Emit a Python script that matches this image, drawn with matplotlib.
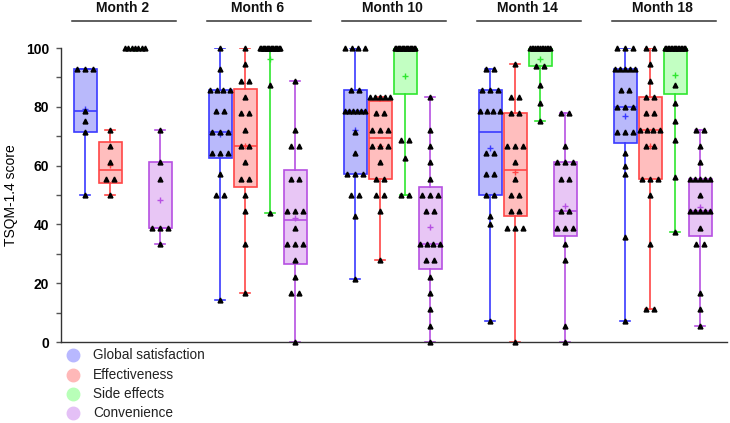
import numpy as np
import matplotlib
matplotlib.use('Agg')
import matplotlib.pyplot as plt
from matplotlib.lines import Line2D
import matplotlib.transforms as mtransforms

plt.rcParams['font.family'] = ['Liberation Sans', 'DejaVu Sans']

months = ['Month 2', 'Month 6', 'Month 10', 'Month 14', 'Month 18']
domains = ['Global satisfaction', 'Effectiveness', 'Side effects', 'Convenience']

global_sat = [
    [92.9, 92.9, 92.9, 78.6, 75.0, 71.4, 50.0],
    [100, 92.9, 85.7, 85.7, 85.7, 85.7, 78.6, 78.6, 71.4, 71.4, 71.4, 64.3, 64.3, 64.3, 57.1, 50.0, 50.0, 14.3],
    [100, 100, 100, 100, 85.7, 85.7, 78.6, 78.6, 78.6, 78.6, 78.6, 78.6, 71.4, 64.3, 57.1, 57.1, 57.1, 50.0, 50.0, 42.9, 21.4],
    [92.9, 92.9, 85.7, 85.7, 85.7, 78.6, 78.6, 78.6, 78.6, 64.3, 64.3, 57.1, 57.1, 50.0, 50.0, 42.9, 40.0, 7.1],
    [100, 100, 100, 92.9, 92.9, 92.9, 92.9, 92.9, 85.7, 85.7, 80.0, 80.0, 80.0, 71.4, 71.4, 71.4, 64.3, 60.0, 57.1, 35.7, 7.1],
]
effectiveness = [
    [72.2, 66.7, 61.1, 55.6, 55.6, 50.0],
    [100, 94.4, 88.9, 88.9, 83.3, 77.8, 77.8, 72.2, 66.7, 66.7, 61.1, 55.6, 55.6, 50.0, 44.4, 33.3, 16.7],
    [83.3, 83.3, 83.3, 83.3, 83.3, 77.8, 77.8, 72.2, 72.2, 72.2, 66.7, 66.7, 66.7, 61.1, 55.6, 55.6, 50.0, 50.0, 44.4, 27.8],
    [94.4, 83.3, 83.3, 77.8, 77.8, 66.7, 66.7, 66.7, 61.1, 55.6, 50.0, 50.0, 44.4, 44.4, 38.9, 38.9, 38.9, 0.0],
    [100, 100, 94.4, 88.9, 83.3, 83.3, 77.8, 77.8, 72.2, 72.2, 72.2, 72.2, 66.7, 66.7, 55.6, 55.6, 55.6, 50.0, 33.3, 11.1, 11.1],
]
side_effects = [
    [100, 100, 100, 100, 100, 100, 100],
    [100, 100, 100, 100, 100, 100, 100, 100, 100, 100, 100, 100, 100, 100, 100, 100, 87.5, 43.75],
    [100, 100, 100, 100, 100, 100, 100, 100, 100, 100, 100, 100, 100, 100, 100, 100, 68.75, 68.75, 62.5, 50.0, 50.0],
    [100, 100, 100, 100, 100, 100, 100, 100, 100, 100, 100, 100, 100, 93.75, 93.75, 87.5, 81.25, 75.0],
    [100, 100, 100, 100, 100, 100, 100, 100, 100, 100, 100, 100, 100, 100, 100, 87.5, 81.25, 75.0, 68.75, 56.25, 37.5],
]
convenience = [
    [72.2, 61.1, 55.6, 38.9, 38.9, 38.9, 33.3],
    [88.9, 72.2, 66.7, 66.7, 55.6, 55.6, 44.4, 44.4, 44.4, 38.9, 33.3, 33.3, 33.3, 27.8, 22.2, 16.7, 16.7, 0.0],
    [83.3, 72.2, 66.7, 61.1, 55.6, 50.0, 50.0, 50.0, 44.4, 44.4, 33.3, 33.3, 33.3, 33.3, 27.8, 27.8, 22.2, 16.7, 11.1, 5.6, 0.0],
    [77.8, 77.8, 66.7, 61.1, 61.1, 61.1, 55.6, 55.6, 44.4, 44.4, 38.9, 38.9, 38.9, 33.3, 27.8, 5.6, 0.0],
    [72.2, 72.2, 66.7, 61.1, 55.6, 55.6, 55.6, 55.6, 55.6, 50.0, 44.4, 44.4, 44.4, 44.4, 44.4, 38.9, 33.3, 33.3, 16.7, 11.1, 5.6],
]
series = [global_sat, effectiveness, side_effects, convenience]

edge_colors = ['#3a3aff', '#ff4646', '#2fe62f', '#b650e2']
fill_colors = ['#b9b9fb', '#ffbebe', '#c2ffc2', '#e8c6f5']
legend_colors = ['#b8b8ff', '#ffb8b8', '#b8ffb8', '#e4c0f6']

W, H = 730, 423
fig = plt.figure(figsize=(W / 100, H / 100), dpi=100)
ax = fig.add_axes([61 / W, (H - 342) / H, (727 - 61) / W, (342 - 48) / H])

group_step = 5.4
for g in range(len(months)):
    for i, data in enumerate(series):
        vals = np.array(data[g], dtype=float)
        pos = g * group_step + i
        q1, med, q3 = np.percentile(vals, [25, 50, 75], method='weibull')
        st = dict(med=med, q1=q1, q3=q3, whislo=vals.min(), whishi=vals.max(),
                  mean=vals.mean(), fliers=[])
        ec, fc = edge_colors[i], fill_colors[i]
        ax.bxp([st], positions=[pos], widths=0.92, capwidths=0.42,
               patch_artist=True, showmeans=True, manage_ticks=False,
               boxprops=dict(facecolor=fc, edgecolor=ec, linewidth=1.2),
               medianprops=dict(color=ec, linewidth=1.2),
               whiskerprops=dict(color=ec, linewidth=1.2),
               capprops=dict(color=ec, linewidth=1.2),
               meanprops=dict(marker='+', markeredgecolor=ec, markerfacecolor=ec,
                              markersize=5, markeredgewidth=1),
               zorder=2)
        # spread duplicate values horizontally
        xs, ys = [], []
        uniq, counts = np.unique(vals, return_counts=True)
        for u, c in zip(uniq, counts):
            d = min(0.31, 0.8 / (c - 1)) if c > 1 else 0
            for k in range(c):
                xs.append(pos + (k - (c - 1) / 2) * d)
                ys.append(u)
        ax.plot(xs, ys, linestyle='none', marker='^', color='black',
                markersize=3.5, zorder=4, clip_on=False)

ax.set_xlim(-0.96, 25.68)
ax.set_ylim(0, 100)
ax.spines['top'].set_visible(False)
ax.spines['right'].set_visible(False)
for s in ['left', 'bottom']:
    ax.spines[s].set_linewidth(1.0)
    ax.spines[s].set_color('#333333')
ax.set_xticks([])
ax.set_yticks([0, 20, 40, 60, 80, 100])
ax.set_yticks([10, 30, 50, 70, 90], minor=True)
ax.tick_params(axis='y', which='both', direction='out', length=3.5, width=1,
               color='#555555', pad=5)
for lab in ax.get_yticklabels():
    lab.set_fontweight('bold')
    lab.set_fontsize(10)
ax.set_ylabel('TSQM-1.4 score', fontsize=10)
ax.yaxis.set_label_coords(-0.064, 0.5)

# month headers
trans = mtransforms.blended_transform_factory(ax.transData, fig.transFigure)
for g, m in enumerate(months):
    x0 = g * group_step
    ax.text(x0 + 1.5, 1 - 8.5 / H, m, transform=trans, ha='center', va='center',
            fontsize=10, fontweight='bold', color='#111111')
    fig.add_artist(Line2D([x0 - 0.52, x0 + 3.62], [1 - 20.7 / H, 1 - 20.7 / H],
                          transform=trans, color='#333333', linewidth=1.1))

# legend
leg_y = [355, 375, 394, 413]
for lab, col, yy in zip(domains, legend_colors, leg_y):
    fig.add_artist(Line2D([73 / W], [1 - yy / H], transform=fig.transFigure,
                          marker='o', markersize=9, color=col, linestyle='none'))
    fig.text(93 / W, 1 - yy / H, lab, ha='left', va='center', fontsize=9.8,
             color='#222222')

fig.savefig('out.png', dpi=100)
